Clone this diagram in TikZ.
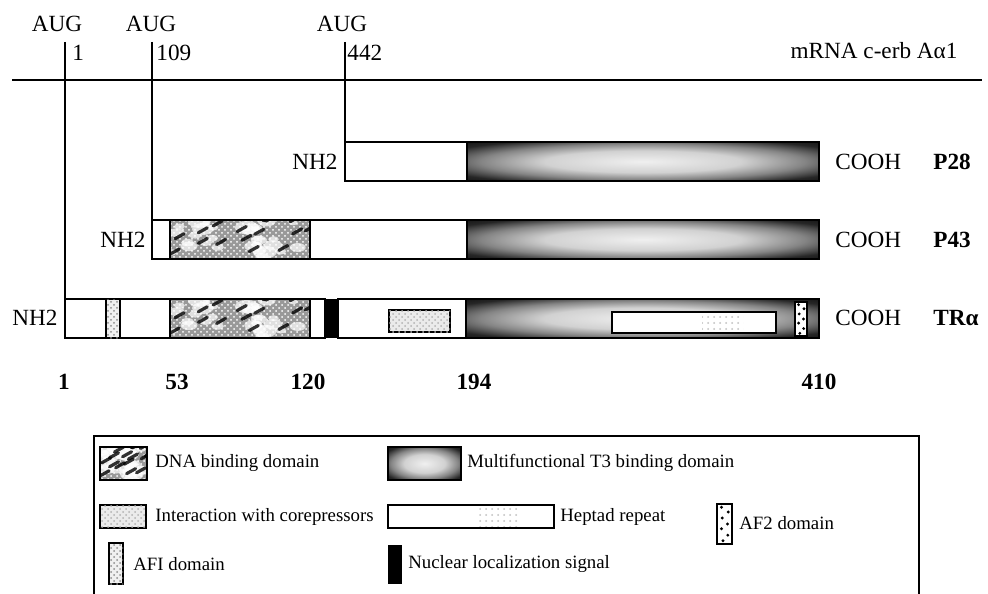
\documentclass[tikz,border=0pt]{standalone}
\usepackage{fontspec}
\setmainfont{Liberation Serif}
\usetikzlibrary{patterns}
% light centre, black rim
\pgfdeclareradialshading{tthreeshade}{\pgfpoint{0bp}{0bp}}{color(0bp)=(black!6); color(14bp)=(black!18); color(23bp)=(black!48); color(31bp)=(black!85); color(40bp)=(black!97); color(50bp)=(black)}
\tikzset{
  x=0.5pt, y=-0.5pt,
  every node/.style={font=\fontsize{11.6}{13}\selectfont, inner sep=0pt},
  rule/.style={line width=1pt},
  seg/.style={draw, line width=1pt, fill=white},
  tthree/.style={draw, line width=1pt, shading=tthreeshade},
  corep/.style={draw, line width=0.9pt, fill=black!8, postaction={pattern=crosshatch dots, pattern color=black!30}},
  afone/.style={draw, line width=1pt, fill=black!6, postaction={pattern=crosshatch dots, pattern color=black!45}},
  heptad/.style={draw, line width=0.9pt, fill=white},
  nls/.style={fill=black},
  prot/.style={anchor=west, font=\fontsize{11.6}{13}\selectfont\bfseries},
  num/.style={font=\fontsize{11.6}{13}\selectfont\bfseries},
  lgd/.style={anchor=west, font=\fontsize{9.4}{11}\selectfont},
}
% mottled DNA binding texture
\newcommand\dnafill[4]{%
  \begin{scope}
    \clip (#1,#2) rectangle (#3,#4);
    \fill[black!40] (#1,#2) rectangle (#3,#4);
    \fill[pattern=crosshatch dots, pattern color=white] (#1,#2) rectangle (#3,#4);
    \pgfmathsetseed{11}
    \foreach \k in {1,...,30}{
      \pgfmathsetmacro\px{#1+rnd*(#3-#1)}
      \pgfmathsetmacro\py{#2+rnd*(#4-#2)}
      \pgfmathsetmacro\pr{2+rnd*5}
      \fill[white, opacity=.7] (\px,\py) ellipse ({\pr*1.8} and \pr);
    }
    \foreach \k in {1,...,16}{
      \pgfmathsetmacro\px{#1+rnd*(#3-#1)}
      \pgfmathsetmacro\py{#2+rnd*(#4-#2)}
      \draw[black, opacity=.8, line width=1.6pt, line cap=round] (\px,\py) -- ++(9,-5);
    }
  \end{scope}
  \draw[line width=1pt] (#1,#2) rectangle (#3,#4);}
% sparse dots of the AF2 domain
\newcommand\aftwo[4]{%
  \draw[line width=1pt, fill=white] (#1,#2) rectangle (#3,#4);
  \foreach \fx/\fy in {.3/.08,.75/.2,.35/.35,.7/.5,.3/.62,.72/.78,.4/.92}
    \fill ({#1+\fx*(#3-#1)},{#2+\fy*(#4-#2)}) circle (0.8pt);}
% heptad repeat with faint speckles
\newcommand\heptadfill[4]{%
  \draw[heptad] (#1,#2) rectangle (#3,#4);
  \fill[pattern=dots, pattern color=black!25] ({#1+.55*(#3-#1)},{#2+2}) rectangle ({#1+.8*(#3-#1)},{#4-2});}

\begin{document}
\begin{tikzpicture}
\useasboundingbox (0,0) rectangle (988,593);
\clip (0,0) rectangle (988,593);

% ---------------------------------------------------------------- mRNA
\coordinate (mL) at (12,80);
\coordinate (mR) at (982,80);
\draw[rule] (mL) -- (mR);
\node (mrna) at (874,51) {mRNA c-erb Aα1};
\foreach \n/\x/\cx/\gap/\pos in {s1/65/57/7/1, s2/152/151/4/109, s3/345/342/2/442} {
  \node (aug\n) at (\cx,24) {AUG};
  \coordinate (\n) at (\x,42);
  \node[anchor=west] (pos\n) at (\x+\gap,53) {\pos};
}

% ---------------------------------------------------------------- P28
\coordinate (p28) at (345,142);
\draw[seg] (p28) rectangle (467,181);
\draw[tthree] (467,142) rectangle (819,181);
\node[anchor=east] (nh28) at (338,162) {NH2};
\node[anchor=west] (co28) at (835,162) {COOH};
\node[prot] (n28) at (933,162) {P28};

% ---------------------------------------------------------------- P43
\coordinate (p43) at (152,220);
\draw[seg] (p43) rectangle (170,259);
\dnafill{170}{220}{310}{259}
\draw[seg] (310,220) rectangle (467,259);
\draw[tthree] (467,220) rectangle (819,259);
\node[anchor=east] (nh43) at (146,240) {NH2};
\node[anchor=west] (co43) at (835,240) {COOH};
\node[prot] (n43) at (933,240) {P43};

% ---------------------------------------------------------------- TR alpha
\coordinate (tra) at (65,299);
\draw[seg] (tra) rectangle (106,338);
\draw[afone] (106,299) rectangle (120,338);
\draw[seg] (120,299) rectangle (170,338);
\dnafill{170}{299}{310}{338}
\draw[seg] (310,299) rectangle (325,338);
\fill[nls] (325,299) rectangle (338,338);
\draw[seg] (338,299) rectangle (466,338);
\draw[corep] (389,310) rectangle (450,332);
\draw[tthree] (466,299) rectangle (819,338);
\heptadfill{612}{312}{776}{333}
\aftwo{795}{302}{807}{336}
\node[anchor=east] (nhtr) at (58,318) {NH2};
\node[anchor=west] (cotr) at (835,318) {COOH};
\node[prot] (ntr) at (933,318) {TRα};

% start codons down to the proteins
\draw[rule] (s1) -- (tra);
\draw[rule] (s2) -- (p43);
\draw[rule] (s3) -- (p28);

% residue numbers
\foreach \r/\x in {1/64, 53/177, 120/308, 194/474, 410/819}
  \node[num] (r\r) at (\x,382) {\r};

% ---------------------------------------------------------------- legend
\draw[line width=1pt] (94,436) rectangle (919,640);
\dnafill{100}{447}{147}{480}
\node[lgd] (ldna) at (155,463) {DNA binding domain};
\draw[tthree] (388,447) rectangle (461,480);
\node[lgd] (lt3) at (467,463) {Multifunctional T3 binding domain};
\draw[corep] (100,505) rectangle (146,528);
\node[lgd] (lcor) at (155,517) {Interaction with corepressors};
\heptadfill{388}{505}{554}{528}
\node[lgd] (lhep) at (560,517) {Heptad repeat};
\aftwo{717}{504}{732}{544}
\node[lgd] (laf2) at (739,523) {AF2 domain};
\draw[afone] (109,543) rectangle (123,584);
\node[lgd] (laf1) at (133,564) {AFI domain};
\fill[nls] (388,545) rectangle (402,584);
\node[lgd] (lnls) at (408,564) {Nuclear localization signal};

\end{tikzpicture}
\end{document}
